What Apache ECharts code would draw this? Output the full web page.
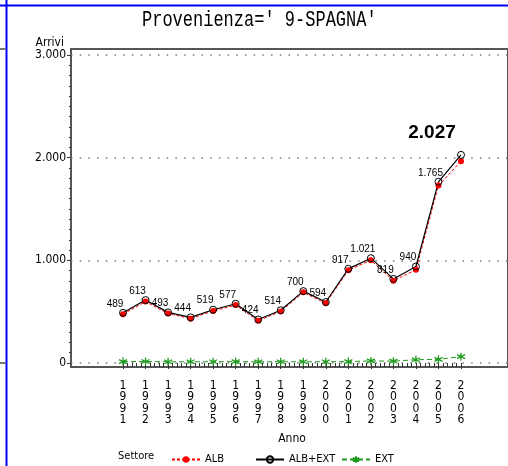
<!DOCTYPE html>
<html>
<head>
<meta charset="utf-8">
<script src="https://cdn.jsdelivr.net/npm/echarts@6/dist/echarts.min.js"></script>
<style>
html, body { margin: 0; padding: 0; background: #fff; }
#chart-0 { width: 508px; height: 466px; }
</style>
</head>
<body>
<div id="chart-0"></div>
<script>
var years = [1991, 1992, 1993, 1994, 1995, 1996, 1997, 1998, 1999, 2000, 2001, 2002, 2003, 2004, 2005, 2006];
var albExt = [489, 613, 493, 444, 519, 577, 424, 514, 700, 594, 917, 1021, 819, 940, 1765, 2027];
var alb = [475, 598, 481, 432, 507, 564, 412, 502, 688, 582, 903, 1001, 801, 908, 1729, 1965];
var ext = [14, 15, 12, 12, 12, 13, 12, 12, 12, 12, 14, 20, 18, 32, 36, 62];
var yTicks = [0, 1000, 2000, 3000];

var narrow = "'Liberation Sans Narrow', 'DejaVu Sans Condensed', sans-serif";
var green = '#1e9b1e';
var star = 'path://M5,0L5,10M0.7,2.5L9.3,7.5M0.7,7.5L9.3,2.5';

function fmt(v) {
    return String(v).replace(/\B(?=(\d{3})+(?!\d))/g, '.');
}

function pairs(values) {
    var out = [];
    for (var i = 0; i < years.length; i++) {
        out.push([years[i], values[i]]);
    }
    return out;
}

var chart = echarts.init(document.getElementById('chart-0'));

var totalData = pairs(albExt);
// last point gets the big bold label
var last = totalData.length - 1;
totalData[last] = {
    value: totalData[last],
    label: {
        fontFamily: "'Liberation Sans', Arial, sans-serif",
        fontSize: 19,
        fontWeight: 'bold',
        offset: [-29, -9],
        formatter: function(p) { return fmt(p.value[1]); }
    }
};

var legendText = { fontFamily: narrow, fontSize: 11, color: '#000' };

var option = {
    animation: false,
    backgroundColor: '#fff',
    graphic: [
        { type: 'line', shape: { x1: 0, y1: 5.5, x2: 508, y2: 5.5 }, style: { stroke: '#0000ff', lineWidth: 2 } },
        { type: 'line', shape: { x1: 6.5, y1: 0, x2: 6.5, y2: 466 }, style: { stroke: '#0000ff', lineWidth: 2 } },
        { type: 'line', shape: { x1: 0, y1: 49, x2: 6, y2: 49 }, style: { stroke: '#777', lineWidth: 2 } },
        { type: 'line', shape: { x1: 0, y1: 363, x2: 6, y2: 363 }, style: { stroke: '#777', lineWidth: 2 } },
        {
            type: 'text', x: 142, y: 9, scaleY: 1.3,
            style: { text: "Provenienza=' 9-SPAGNA'", font: "17px 'Liberation Mono', 'DejaVu Sans Mono', monospace", fill: '#000' }
        },
        {
            type: 'text', x: 118, y: 451,
            style: { text: 'Settore', font: '11px ' + narrow, fill: '#000' }
        }
    ],
    legend: [
        { data: ['ALB'], left: 166, top: 449, itemWidth: 28, itemHeight: 8, itemGap: 0, textStyle: legendText },
        { data: ['ALB+EXT'], left: 250, top: 449, itemWidth: 28, itemHeight: 8, itemGap: 0, textStyle: legendText },
        { data: ['EXT'], left: 336, top: 449, itemWidth: 28, itemHeight: 8, itemGap: 0, textStyle: legendText }
    ],
    grid: [
        // frame
        { left: 71, right: -3, top: 49, bottom: 99, show: true, borderColor: '#555', borderWidth: 2 },
        // y axis + grid lines
        { left: 71, right: -3, top: 55, bottom: 103 },
        // data
        { left: 123, right: 47, top: 55, bottom: 103 }
    ],
    xAxis: [
        { gridIndex: 0, type: 'value', show: false },
        { gridIndex: 1, type: 'value', show: false },
        {
            gridIndex: 2,
            type: 'value',
            min: years[0],
            max: years[years.length - 1],
            interval: 1,
            offset: 4,
            name: 'Anno',
            nameLocation: 'middle',
            nameGap: 66,
            nameTextStyle: { fontFamily: narrow, fontSize: 12, color: '#000' },
            axisLine: { show: false },
            axisTick: { show: true, length: 6, lineStyle: { color: '#333', width: 1 } },
            minorTick: { show: true, splitNumber: 5, length: 4, lineStyle: { color: '#333', width: 1 } },
            splitLine: { show: false },
            axisLabel: {
                margin: 13,
                fontFamily: narrow,
                fontSize: 12,
                lineHeight: 11.5,
                color: '#000',
                formatter: function(v) { return String(v).split('').join('\n'); }
            }
        }
    ],
    yAxis: [
        { gridIndex: 0, type: 'value', show: false },
        {
            gridIndex: 1,
            type: 'value',
            min: yTicks[0],
            max: yTicks[yTicks.length - 1],
            interval: 1000,
            name: 'Arrivi',
            nameLocation: 'end',
            nameGap: 2,
            nameTextStyle: { fontFamily: narrow, fontSize: 12, color: '#000', align: 'right', padding: [0, 7, 0, 0] },
            axisLine: { show: false },
            axisTick: { show: true, length: 4, lineStyle: { color: '#333' } },
            minorTick: { show: true, splitNumber: 10, length: 2, lineStyle: { color: '#333' } },
            splitLine: { show: true, lineStyle: { color: '#777', type: [1.5, 7.2], width: 1.5 } },
            axisLabel: {
                margin: 5,
                fontFamily: narrow,
                fontSize: 12,
                color: '#000',
                formatter: function(v) { return fmt(v); }
            }
        },
        { gridIndex: 2, type: 'value', min: 0, max: 3000, show: false }
    ],
    series: [
        {
            name: 'ALB',
            type: 'line',
            xAxisIndex: 2,
            yAxisIndex: 2,
            symbol: 'circle',
            symbolSize: 6,
            itemStyle: { color: '#ff0000' },
            lineStyle: { color: '#ff0000', width: 1, type: [3, 2] },
            data: pairs(alb)
        },
        {
            name: 'ALB+EXT',
            type: 'line',
            xAxisIndex: 2,
            yAxisIndex: 2,
            symbol: 'circle',
            symbolSize: 7,
            itemStyle: { color: 'rgba(0,0,0,0)', borderColor: '#000', borderWidth: 1 },
            lineStyle: { color: '#000', width: 1.2 },
            label: {
                show: true,
                position: 'top',
                distance: 0,
                offset: [-8, 0],
                fontFamily: "'Liberation Sans', Arial, sans-serif",
                fontSize: 10,
                color: '#000',
                formatter: function(p) { return fmt(p.value[1]); }
            },
            data: totalData
        },
        {
            name: 'EXT',
            type: 'line',
            xAxisIndex: 2,
            yAxisIndex: 2,
            symbol: star,
            symbolSize: 8,
            itemStyle: { color: 'rgba(0,0,0,0)', borderColor: green, borderWidth: 1.3 },
            lineStyle: { color: green, width: 1, type: [5, 3] },
            data: pairs(ext)
        }
    ]
};

chart.setOption(option);
</script>
</body>
</html>
